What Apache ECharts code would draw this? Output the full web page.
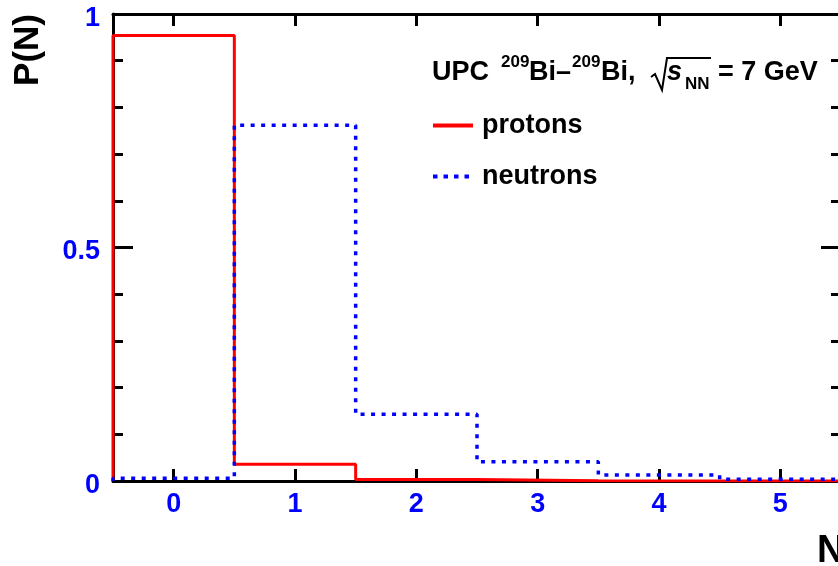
<!DOCTYPE html>
<html>
<head>
<meta charset="utf-8">
<script src="https://cdn.jsdelivr.net/npm/echarts@6/dist/echarts.min.js"></script>
<style>
html,body{margin:0;padding:0;background:#fff;}
#chart{width:838px;height:566px;}
</style>
</head>
<body>
<div id="chart"></div>
<script>
// ---- data ----
const binCenters = [0, 1, 2, 3, 4, 5];
const protons  = [0.954, 0.036, 0.003, 0.0005, 0.0001, 0];
const neutrons = [0.006, 0.762, 0.143, 0.041, 0.013, 0.004];
const xTickValues = [0, 1, 2, 3, 4, 5];
const seriesNames = ['protons', 'neutrons'];

const FONT = "'Liberation Sans', Arial, Helvetica, sans-serif";
const BLUE = '#0000ff';
const RED = '#ff0000';

function stepPoints(vals) {
  const pts = [[binCenters[0] - 0.5, 0]];
  vals.forEach((v, i) => {
    pts.push([binCenters[i] - 0.5, v]);
    pts.push([binCenters[i] + 0.5, v]);
  });
  pts.push([binCenters[binCenters.length - 1] + 0.5, 0]);
  return pts;
}

const chart = echarts.init(document.getElementById('chart'), null, {renderer: 'canvas'});

const axisLineStyle = {show: true, onZero: false, lineStyle: {color: '#000', width: 3}};

const option = {
  animation: false,
  backgroundColor: '#fff',
  grid: {left: 113, top: 14, width: 728, height: 467, containLabel: false, outerBoundsMode: 'none'},
  xAxis: [
    {
      type: 'value', position: 'bottom', min: -0.5, max: 5.5,
      axisLine: axisLineStyle,
      axisTick: {show: true, inside: true, length: 12, customValues: xTickValues, lineStyle: {color: '#000', width: 3}},
      axisLabel: {show: true, customValues: xTickValues, color: BLUE, fontSize: 27, fontWeight: 'bold', fontFamily: FONT, margin: 10},
      splitLine: {show: false}
    },
    {
      type: 'value', position: 'top', min: -0.5, max: 5.5,
      axisLine: axisLineStyle,
      axisTick: {show: true, inside: true, length: 12, customValues: xTickValues, lineStyle: {color: '#000', width: 3}},
      axisLabel: {show: false},
      splitLine: {show: false}
    }
  ],
  yAxis: [
    {
      type: 'value', position: 'left', min: 0, max: 1, interval: 0.5,
      axisLine: axisLineStyle,
      axisTick: {show: true, inside: true, length: 20, lineStyle: {color: '#000', width: 3}},
      minorTick: {show: true, splitNumber: 5, length: 10, lineStyle: {color: '#000', width: 3}},
      axisLabel: {show: true, color: BLUE, fontSize: 27, fontWeight: 'bold', fontFamily: FONT, margin: 13,
                  verticalAlign: 'top', lineHeight: 9},
      splitLine: {show: false}
    },
    {
      type: 'value', position: 'right', min: 0, max: 1, interval: 0.5,
      axisLine: axisLineStyle,
      axisTick: {show: true, inside: true, length: 20, lineStyle: {color: '#000', width: 3}},
      minorTick: {show: true, splitNumber: 5, length: 10, lineStyle: {color: '#000', width: 3}},
      axisLabel: {show: false},
      splitLine: {show: false}
    }
  ],
  legend: {
    orient: 'vertical', left: 433, top: 112, padding: 0,
    itemWidth: 40, itemHeight: 4, itemGap: 24, symbolKeepAspect: false,
    data: [
      {name: seriesNames[0], icon: 'path://M0,0.5h40v3h-40z'},
      {name: seriesNames[1], icon: 'path://M0,0h4.5v4h-4.5z M10.5,0h4.5v4h-4.5z M21,0h4.5v4h-4.5z M31.5,0h4.5v4h-4.5z M40,0h0v4h0z'}
    ],
    textStyle: {color: '#000', fontSize: 27, fontWeight: 'bold', fontFamily: FONT, padding: [0, 0, 0, 4]}
  },
  series: [
    {
      name: seriesNames[0], type: 'line', data: stepPoints(protons),
      showSymbol: false, symbol: 'none',
      lineStyle: {color: RED, width: 3}, itemStyle: {color: RED}
    },
    {
      name: seriesNames[1], type: 'line', data: stepPoints(neutrons),
      showSymbol: false, symbol: 'none',
      lineStyle: {color: BLUE, width: 3.5, type: [4, 6.5]}, itemStyle: {color: BLUE}
    }
  ],
  graphic: [
    // axis titles
    {type: 'text', x: 28, y: 50, rotation: Math.PI / 2,
     style: {text: 'P(N)', fill: '#000', font: 'bold 35px ' + FONT, align: 'center', verticalAlign: 'middle'}},
    {type: 'text', x: 817, y: 552,
     style: {text: 'N', fill: '#000', font: 'bold 38px ' + FONT, align: 'left', verticalAlign: 'middle'}},
    // header text
    {type: 'text', x: 432, y: 72.5, style: {text: 'UPC', fill: '#000', font: 'bold 27px ' + FONT, verticalAlign: 'middle'}},
    {type: 'text', x: 501, y: 62.5, style: {text: '209', fill: '#000', font: 'bold 17px ' + FONT, verticalAlign: 'middle'}},
    {type: 'text', x: 529, y: 72.5, style: {text: 'Bi\u2013', fill: '#000', font: 'bold 27px ' + FONT, verticalAlign: 'middle'}},
    {type: 'text', x: 572, y: 62.5, style: {text: '209', fill: '#000', font: 'bold 17px ' + FONT, verticalAlign: 'middle'}},
    {type: 'text', x: 601, y: 72.5, style: {text: 'Bi,', fill: '#000', font: 'bold 27px ' + FONT, verticalAlign: 'middle'}},
    {type: 'polyline', shape: {points: [[651, 77], [655, 74], [662, 90], [667, 58], [711, 58]]},
     style: {stroke: '#000', lineWidth: 2, fill: null}},
    {type: 'text', x: 667, y: 72.5, style: {text: 's', fill: '#000', font: 'italic bold 27px ' + FONT, verticalAlign: 'middle'}},
    {type: 'text', x: 685, y: 84, style: {text: 'NN', fill: '#000', font: 'bold 17px ' + FONT, verticalAlign: 'middle'}},
    {type: 'text', x: 718, y: 72.5, style: {text: '= 7 GeV', fill: '#000', font: 'bold 27px ' + FONT, verticalAlign: 'middle'}}
  ]
};

chart.setOption(option);
</script>
</body>
</html>
